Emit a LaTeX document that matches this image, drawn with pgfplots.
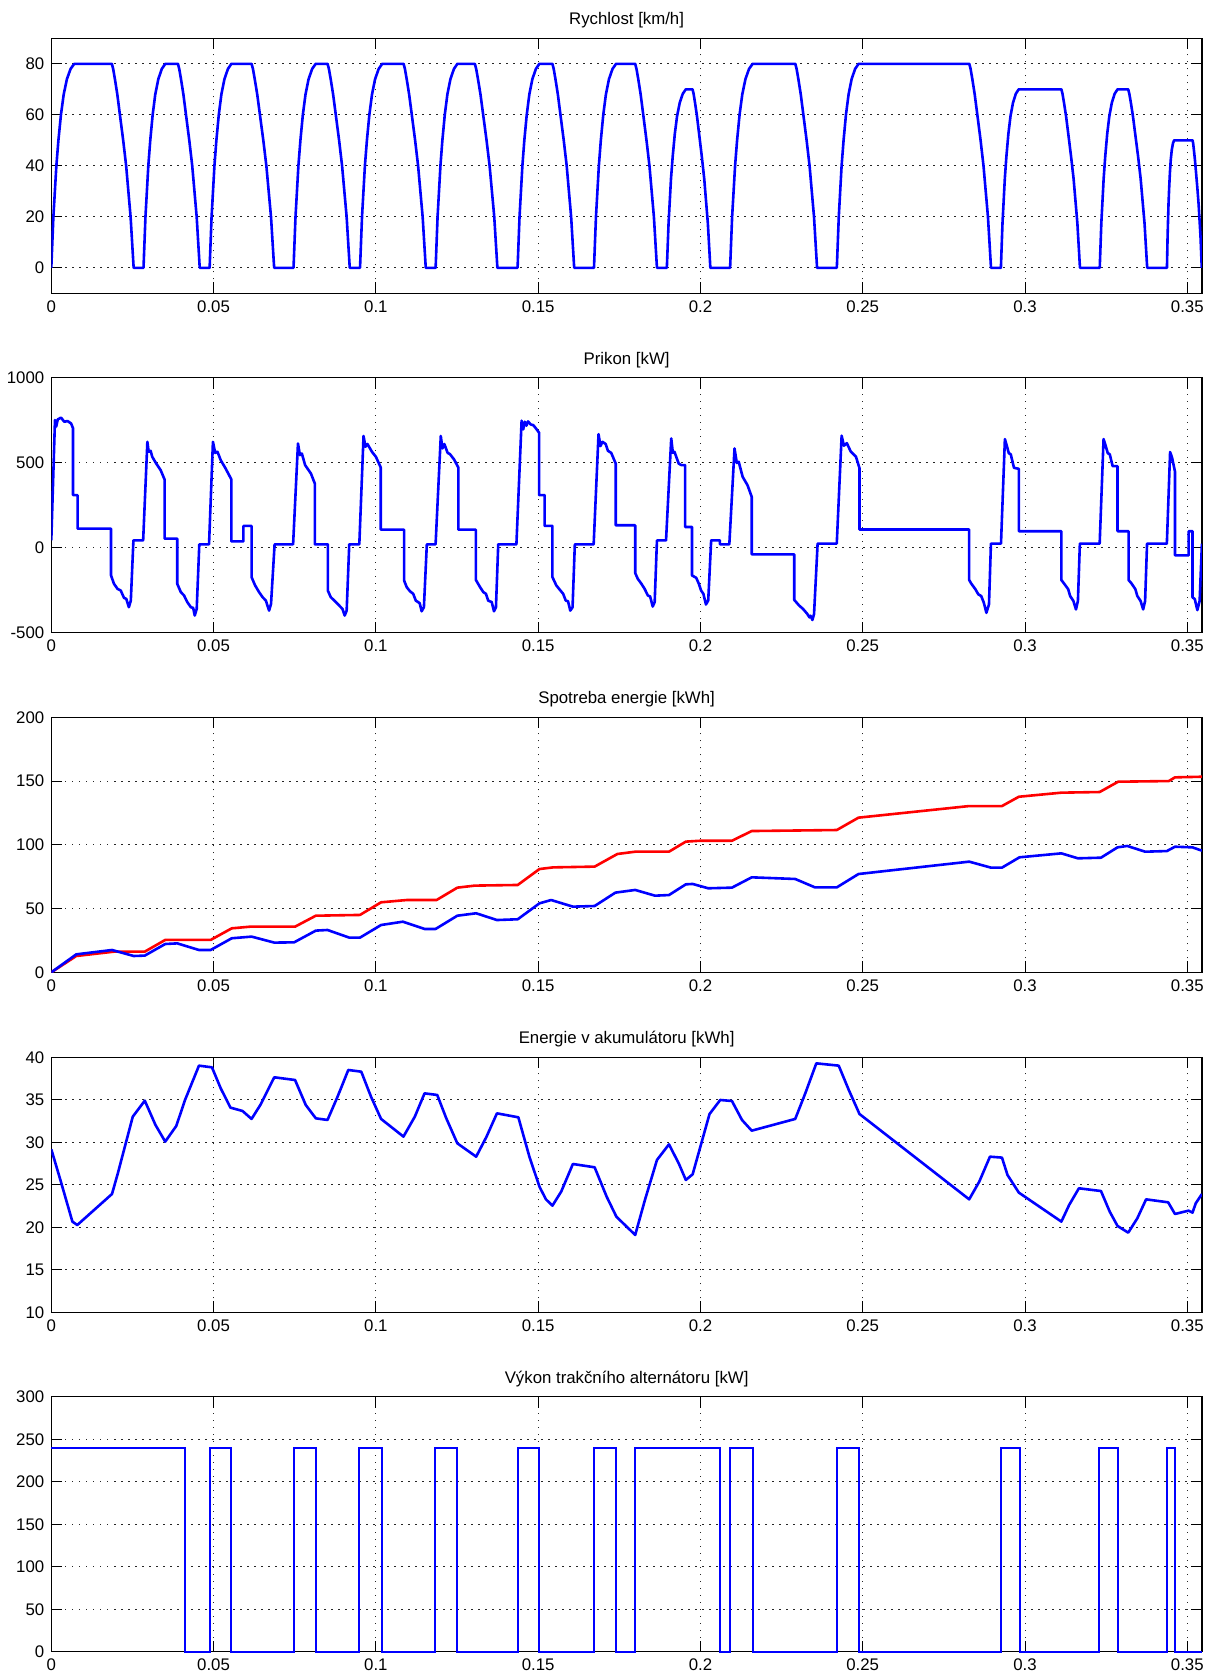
\documentclass[border=0pt]{standalone}
\usepackage{fontspec}
\setmainfont{Liberation Sans}
\usepackage{pgfplots}
\pgfplotsset{compat=1.18}

\pgfplotsset{
  mplot/.style={
    scale only axis, width=575.3pt, height=127.5pt,
    anchor=north west,
    xmin=0, xmax=0.3545,
    xtick={0,0.05,0.1,0.15,0.2,0.25,0.3,0.35},
    xticklabels={0,0.05,0.1,0.15,0.2,0.25,0.3,0.35},
    tick align=inside, major tick length=5.5pt,
    every tick/.style={black, line width=0.5pt},
    axis line style={black, line width=0.6pt},
    grid=major,
    major grid style={black!85, line width=0.5pt, dash pattern=on 0.6pt off 2.9pt},
    tick label style={font=\fontsize{8.4}{10}\selectfont},
    title style={font=\fontsize{8.4}{10}\selectfont, yshift=-4.6pt},
    /pgf/number format/assume math mode=true,
    /pgf/number format/1000 sep={},
  },
  sline/.style={blue, line width=1.3pt, line join=round},
}

\begin{document}
\begin{tikzpicture}
\useasboundingbox (0pt,0pt) rectangle (609.5pt,-838pt);

% rychlost
\begin{axis}[mplot, at={(25.65pt,-19.15pt)}, title={Rychlost [km/h]},
  ymin=-10, ymax=90, ytick={0,20,40,60,80}]
\addplot[sline] coordinates {
(0,0) (0.00064,20) (0.00156,40) (0.00219,50) (0.00297,60) (0.00382,68) (0.00481,74) (0.00594,78) (0.00707,80)
(0.01866,80) (0.01906,78) (0.01960,74) (0.02034,68) (0.02114,60) (0.02215,50) (0.02306,40) (0.02443,20) (0.02537,0)
(0.02841,0) (0.02901,20) (0.02989,40) (0.03049,50) (0.03123,60) (0.03203,68) (0.03297,74) (0.03405,78) (0.03512,80)
(0.03902,80) (0.03942,78) (0.03996,74) (0.04070,68) (0.04150,60) (0.04251,50) (0.04342,40) (0.04479,20) (0.04573,0)
(0.04878,0) (0.04938,20) (0.05026,40) (0.05086,50) (0.05160,60) (0.05240,68) (0.05334,74) (0.05442,78) (0.05549,80)
(0.06171,80) (0.06213,78) (0.06268,74) (0.06345,68) (0.06428,60) (0.06532,50) (0.06626,40) (0.06769,20) (0.06866,0)
(0.07463,0) (0.07524,20) (0.07613,40) (0.07675,50) (0.07750,60) (0.07832,68) (0.07927,74) (0.08037,78) (0.08146,80)
(0.08512,80) (0.08553,78) (0.08608,74) (0.08683,68) (0.08765,60) (0.08867,50) (0.08959,40) (0.09099,20) (0.09195,0)
(0.09512,0) (0.09573,20) (0.09662,40) (0.09724,50) (0.09799,60) (0.09881,68) (0.09976,74) (0.10086,78) (0.10195,80)
(0.10854,80) (0.10895,78) (0.10950,74) (0.11025,68) (0.11107,60) (0.11209,50) (0.11301,40) (0.11441,20) (0.11537,0)
(0.11841,0) (0.11901,20) (0.11989,40) (0.12049,50) (0.12123,60) (0.12203,68) (0.12297,74) (0.12405,78) (0.12512,80)
(0.13049,80) (0.13091,78) (0.13146,74) (0.13223,68) (0.13306,60) (0.13410,50) (0.13504,40) (0.13647,20) (0.13744,0)
(0.14366,0) (0.14426,20) (0.14514,40) (0.14574,50) (0.14648,60) (0.14728,68) (0.14822,74) (0.14930,78) (0.15037,80)
(0.15439,80) (0.15479,78) (0.15533,74) (0.15607,68) (0.15687,60) (0.15788,50) (0.15879,40) (0.16016,20) (0.16110,0)
(0.16720,0) (0.16781,20) (0.16870,40) (0.16931,50) (0.17006,60) (0.17087,68) (0.17182,74) (0.17291,78) (0.17400,80)
(0.17990,80) (0.18030,78) (0.18084,74) (0.18158,68) (0.18238,60) (0.18338,50) (0.18429,40) (0.18566,20) (0.18660,0)
(0.18965,0) (0.19018,17.5) (0.19093,35) (0.19146,43.75) (0.19210,52.5) (0.19280,59.5) (0.19362,64.75) (0.19456,68.25) (0.19549,70)
(0.19756,70) (0.19789,68.25) (0.19833,64.75) (0.19893,59.5) (0.19959,52.5) (0.20041,43.75) (0.20116,35) (0.20228,17.5) (0.20305,0)
(0.20914,0) (0.20976,20) (0.21067,40) (0.21129,50) (0.21205,60) (0.21289,68) (0.21386,74) (0.21497,78) (0.21608,80)
(0.22923,80) (0.22963,78) (0.23017,74) (0.23091,68) (0.23171,60) (0.23271,50) (0.23362,40) (0.23499,20) (0.23593,0)
(0.24202,0) (0.24262,20) (0.24349,40) (0.24410,50) (0.24483,60) (0.24564,68) (0.24658,74) (0.24765,78) (0.24872,80)
(0.28283,80) (0.28323,78) (0.28377,74) (0.28450,68) (0.28531,60) (0.28631,50) (0.28721,40) (0.28858,20) (0.28952,0)
(0.29257,0) (0.29306,17.5) (0.29378,35) (0.29427,43.75) (0.29487,52.5) (0.29553,59.5) (0.29630,64.75) (0.29717,68.25) (0.29805,70)
(0.31121,70) (0.31155,68.25) (0.31201,64.75) (0.31264,59.5) (0.31333,52.5) (0.31418,43.75) (0.31496,35) (0.31613,17.5) (0.31693,0)
(0.32302,0) (0.32351,17.5) (0.32423,35) (0.32472,43.75) (0.32532,52.5) (0.32598,59.5) (0.32675,64.75) (0.32762,68.25) (0.32850,70)
(0.33179,70) (0.33214,68.25) (0.33261,64.75) (0.33325,59.5) (0.33395,52.5) (0.33483,43.75) (0.33562,35) (0.33682,17.5) (0.33764,0)
(0.34373,0) (0.34393,12.5) (0.34421,25) (0.34441,31.25) (0.34465,37.5) (0.34491,42.5) (0.34522,46.25) (0.34557,48.75) (0.34592,50)
(0.35164,50) (0.35181,48.75) (0.35203,46.25) (0.35234,42.5) (0.35268,37.5) (0.35310,31.25) (0.35348,25) (0.35406,12.5) (0.35445,0)
};
\end{axis}

% prikon
\begin{axis}[mplot, at={(25.65pt,-188.85pt)}, title={Prikon [kW]},
  ymin=-500, ymax=1000, ytick={-500,0,500,1000}]
\addplot[sline] coordinates {
(0,43) (0.00113,751) (0.0015,712) (0.0020,755) (0.0030,765) (0.0040,741) (0.0050,745) (0.0061,731) (0.0067,702)
(0.0067,309) (0.0081,309) (0.0081,112) (0.0184,112)
(0.0184,-163) (0.0193,-212) (0.0204,-242) (0.0214,-252) (0.0224,-295) (0.0231,-301) (0.0239,-350) (0.0245,-311) (0.0253,43)
(0.0283,43) (0.0296,623) (0.0300,564) (0.0306,570) (0.0311,535) (0.0322,499) (0.0337,456) (0.0349,401)
(0.0349,53) (0.0388,53)
(0.0388,-212) (0.0399,-261) (0.0409,-281) (0.0419,-320) (0.0430,-350) (0.0437,-354) (0.0442,-399) (0.0448,-360) (0.0456,20)
(0.0486,20) (0.0498,623) (0.0505,558) (0.0512,564) (0.0522,515) (0.0537,466) (0.0555,401)
(0.0555,37) (0.0592,37) (0.0592,128) (0.0617,128)
(0.0617,-173) (0.0628,-222) (0.0640,-261) (0.0651,-291) (0.0661,-311) (0.0671,-370) (0.0677,-330) (0.0688,20)
(0.0745,20) (0.0760,613) (0.0766,545) (0.0772,554) (0.0782,486) (0.0800,436) (0.0812,377)
(0.0812,20) (0.0852,20)
(0.0852,-252) (0.0861,-291) (0.0877,-320) (0.0892,-350) (0.0897,-360) (0.0904,-399) (0.0910,-370) (0.0918,20)
(0.0949,20) (0.0962,657) (0.0968,594) (0.0974,610) (0.0988,564) (0.1000,535) (0.1015,472)
(0.1015,106) (0.1087,106)
(0.1087,-193) (0.1095,-232) (0.1105,-256) (0.1115,-271) (0.1123,-311) (0.1130,-320) (0.1135,-326) (0.1141,-374) (0.1148,-350) (0.1157,20)
(0.1184,20) (0.1200,657) (0.1205,584) (0.1211,610) (0.1221,558) (0.1228,551) (0.1241,519) (0.1254,472)
(0.1254,106) (0.1308,106)
(0.1308,-189) (0.1321,-232) (0.1331,-261) (0.1339,-271) (0.1346,-311) (0.1357,-320) (0.1364,-374) (0.1370,-350) (0.1377,20)
(0.1433,20) (0.1449,747) (0.1454,696) (0.1459,741) (0.1464,718) (0.1469,743) (0.1477,725) (0.1485,721) (0.1493,702) (0.1503,676)
(0.1503,309) (0.1520,309) (0.1520,128) (0.1544,128)
(0.1544,-173) (0.1556,-222) (0.1567,-248) (0.1577,-271) (0.1585,-311) (0.1592,-315) (0.1599,-370) (0.1606,-350) (0.1613,20)
(0.1671,20) (0.1686,668) (0.1692,598) (0.1698,623) (0.1708,610) (0.1715,570) (0.1725,558) (0.1739,495)
(0.1739,132) (0.1799,132)
(0.1799,-149) (0.1807,-183) (0.1818,-212) (0.1828,-242) (0.1838,-281) (0.1845,-287) (0.1853,-346) (0.1859,-320) (0.1866,43)
(0.1894,43) (0.1910,643) (0.1915,558) (0.1920,564) (0.1933,495) (0.1941,486) (0.1953,486)
(0.1953,122) (0.1974,122)
(0.1974,-163) (0.1987,-177) (0.1995,-212) (0.2002,-252) (0.2009,-271) (0.2017,-334) (0.2024,-310) (0.2033,43)
(0.2060,43) (0.2060,20) (0.2089,20) (0.2105,584) (0.2112,499) (0.2118,505) (0.2130,417) (0.2145,368) (0.2158,299)
(0.2158,-39) (0.2289,-39)
(0.2289,-307) (0.2304,-340) (0.2316,-360) (0.2329,-389) (0.2336,-410) (0.2339,-400) (0.2345,-425) (0.2350,-390) (0.2361,24)
(0.2420,24) (0.2435,659) (0.2442,600) (0.2451,615) (0.2463,566) (0.2479,536) (0.2490,468)
(0.2490,107) (0.2828,107)
(0.2828,-190) (0.2834,-210) (0.2847,-244) (0.2856,-274) (0.2865,-284) (0.2873,-323) (0.2881,-383) (0.2889,-333) (0.2895,24)
(0.2926,24) (0.2938,639) (0.2944,599) (0.2950,556) (0.2956,550) (0.2966,470) (0.2981,464)
(0.2981,97) (0.3112,97)
(0.3112,-190) (0.3120,-210) (0.3133,-244) (0.3139,-284) (0.3149,-313) (0.3157,-363) (0.3163,-313) (0.3169,24)
(0.3230,24) (0.3242,639) (0.3248,603) (0.3255,556) (0.3261,550) (0.3270,480) (0.3285,480)
(0.3285,97) (0.3319,97)
(0.3319,-190) (0.3328,-210) (0.3340,-244) (0.3346,-284) (0.3356,-313) (0.3364,-363) (0.3370,-313) (0.3376,24)
(0.3437,24) (0.3447,563) (0.3453,530) (0.3462,448)
(0.3462,-45) (0.3504,-45) (0.3504,97) (0.3516,97)
(0.3516,-292) (0.3523,-302) (0.3531,-367) (0.3538,-313) (0.3545,24)
};
\end{axis}

% spotreba
\begin{axis}[mplot, at={(25.65pt,-358.65pt)}, title={Spotreba energie [kWh]},
  ymin=0, ymax=200, ytick={0,50,100,150,200}]
\addplot[red, line width=1.3pt, line join=round] coordinates {
(0,0) (0.0077,12.8) (0.0193,16.2) (0.0288,16.2) (0.0351,25.4) (0.0491,25.4)
(0.0556,34.5) (0.0613,35.8) (0.0751,35.8) (0.0815,44.4) (0.0951,45.0)
(0.1016,54.9) (0.1095,56.7) (0.1187,56.7) (0.1251,66.4) (0.1305,68.0)
(0.1437,68.5) (0.1504,81.0) (0.1546,82.3) (0.1674,82.9) (0.1744,92.8)
(0.1799,94.6) (0.1903,94.6) (0.1955,102.5) (0.2000,103.2) (0.2097,103.2)
(0.2158,110.8) (0.2420,111.6) (0.2487,121.3) (0.2828,130.4) (0.2929,130.4)
(0.2981,137.7) (0.3112,140.9) (0.3230,141.4) (0.3287,149.5) (0.3443,150.0)
(0.3462,152.9) (0.3545,153.4)
};
\addplot[sline] coordinates {
(0,0) (0.0077,14.1) (0.0187,17.5) (0.0254,12.8) (0.0288,13.1) (0.0351,22.2)
(0.0388,22.7) (0.0455,17.5) (0.0491,17.5) (0.0556,26.7) (0.0617,28.0)
(0.0687,23.3) (0.0748,23.5) (0.0815,32.7) (0.0851,33.2) (0.0918,27.2)
(0.0951,27.2) (0.1016,37.1) (0.1083,39.7) (0.1150,34.0) (0.1184,34.0)
(0.1251,44.4) (0.1309,46.3) (0.1373,41.0) (0.1437,41.6) (0.1504,54.1)
(0.1540,56.7) (0.1607,51.5) (0.1674,52.0) (0.1738,62.5) (0.1799,64.6)
(0.1860,60.1) (0.1903,60.6) (0.1955,69.0) (0.1976,69.3) (0.2024,65.9)
(0.2097,66.4) (0.2158,74.5) (0.2292,73.2) (0.2353,66.6) (0.2420,66.6)
(0.2487,77.1) (0.2828,86.8) (0.2895,82.1) (0.2929,82.1) (0.2983,90.2)
(0.3112,93.3) (0.3163,89.4) (0.3234,89.9) (0.3285,98.0) (0.3315,99.1)
(0.3370,94.6) (0.3437,95.1) (0.3462,98.5) (0.3516,98.0) (0.3545,95.4)
};
\end{axis}

% akumulator
\begin{axis}[mplot, at={(25.65pt,-528.65pt)}, title={Energie v akumulátoru [kWh]},
  ymin=10, ymax=40, ytick={10,15,20,25,30,35,40}]
\addplot[sline] coordinates {
(0,29.18) (0.0028,25.57) (0.0065,20.67) (0.0080,20.27) (0.0187,23.92) (0.0205,26.35)
(0.0251,33.02) (0.0288,34.90) (0.0321,32.04) (0.0351,30.08) (0.0385,31.92) (0.0412,34.98)
(0.0455,39.02) (0.0495,38.82) (0.0522,36.35) (0.0552,34.08) (0.0589,33.69) (0.0617,32.75)
(0.0644,34.39) (0.0687,37.65) (0.0751,37.33) (0.0784,34.39) (0.0815,32.82) (0.0851,32.63)
(0.0882,35.37) (0.0915,38.51) (0.0955,38.31) (0.0985,35.37) (0.1016,32.75) (0.1085,30.67)
(0.1120,33.02) (0.1150,35.76) (0.1189,35.57) (0.1217,32.82) (0.1251,29.88) (0.1309,28.31)
(0.1341,30.67) (0.1373,33.41) (0.1439,32.94) (0.1473,28.31) (0.1504,24.78) (0.1524,23.29)
(0.1544,22.55) (0.1571,24.20) (0.1607,27.45) (0.1674,27.06) (0.1711,23.61) (0.1741,21.25)
(0.1799,19.10) (0.1829,23.22) (0.1866,27.92) (0.1903,29.76) (0.1933,27.53) (0.1955,25.57)
(0.1976,26.24) (0.2028,33.33) (0.2061,34.98) (0.2097,34.86) (0.2128,32.63) (0.2158,31.37)
(0.2292,32.75) (0.2323,35.76) (0.2357,39.29) (0.2426,39.02) (0.2457,36.16) (0.2490,33.33)
(0.2828,23.29) (0.2859,25.37) (0.2892,28.31) (0.2929,28.20) (0.2946,26.16) (0.2981,24.08)
(0.3112,20.67) (0.3136,22.63) (0.3166,24.59) (0.3234,24.27) (0.3261,21.84) (0.3285,20.16)
(0.3318,19.37) (0.3346,21.06) (0.3373,23.29) (0.3441,22.94) (0.3462,21.57) (0.3504,21.96)
(0.3516,21.73) (0.3526,22.82) (0.3545,23.92)
};
\end{axis}

% alternator
\begin{axis}[mplot, at={(25.65pt,-698.35pt)}, title={Výkon trakčního alternátoru [kW]},
  ymin=0, ymax=300, ytick={0,50,100,150,200,250,300}, clip=false]
\addplot[blue, line width=1pt] coordinates {
(0,240) (0.0412,240) (0.0412,0) (0.0488,0) (0.0488,240) (0.0555,240) (0.0555,0)
(0.0748,0) (0.0748,240) (0.0815,240) (0.0815,0) (0.0949,0) (0.0949,240) (0.1020,240) (0.1020,0)
(0.1183,0) (0.1183,240) (0.1251,240) (0.1251,0) (0.1437,0) (0.1437,240) (0.1504,240) (0.1504,0)
(0.1672,0) (0.1672,240) (0.1739,240) (0.1739,0) (0.1799,0) (0.1799,240) (0.2061,240) (0.2061,0)
(0.2091,0) (0.2091,240) (0.2161,240) (0.2161,0) (0.2420,0) (0.2420,240) (0.2490,240) (0.2490,0)
(0.2926,0) (0.2926,240) (0.2983,240) (0.2983,0) (0.3227,0) (0.3227,240) (0.3285,240) (0.3285,0)
(0.3437,0) (0.3437,240) (0.3462,240) (0.3462,0) (0.3545,0)
};
\end{axis}
\end{tikzpicture}
\end{document}
